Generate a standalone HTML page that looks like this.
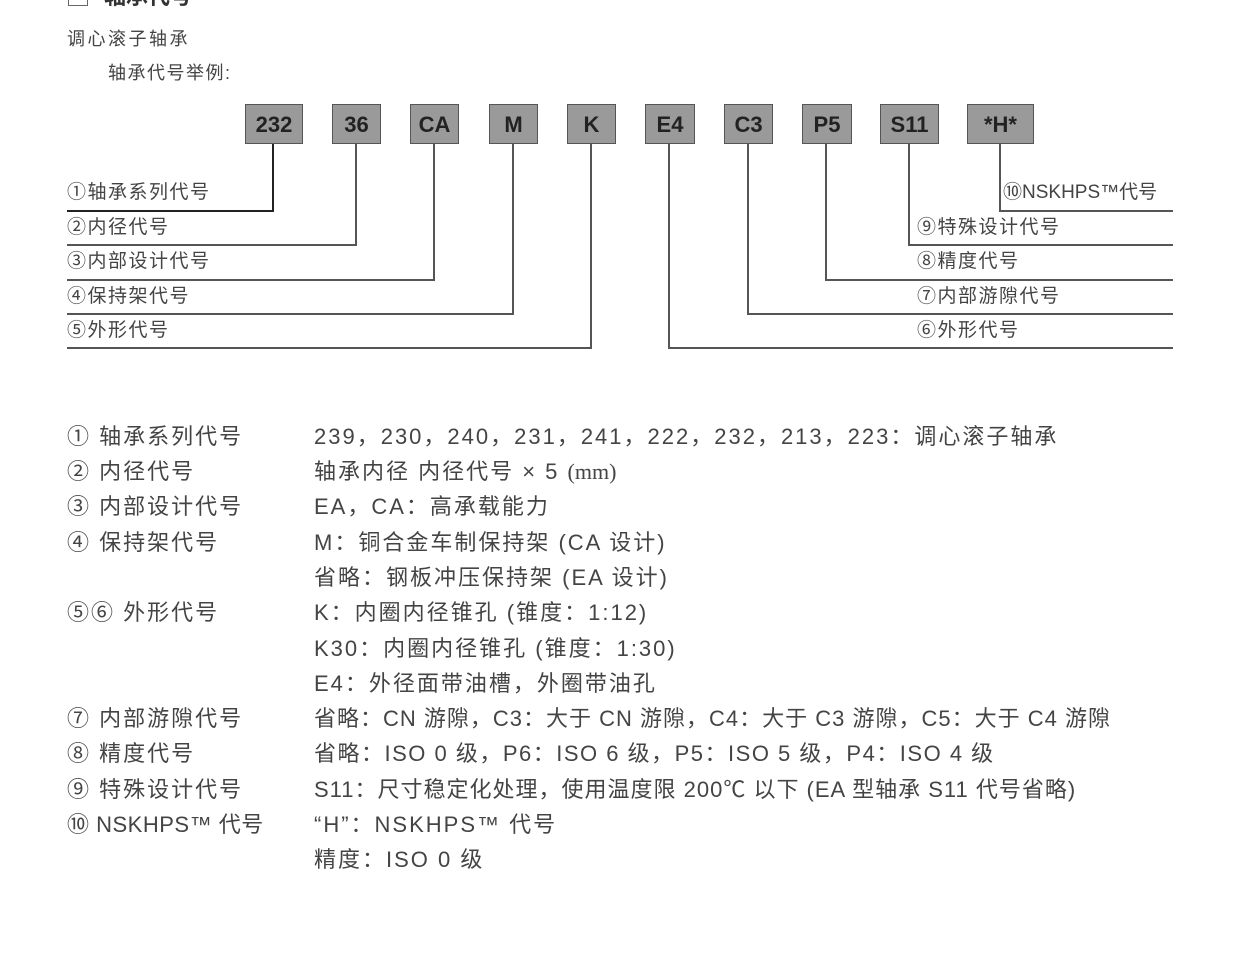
<!DOCTYPE html>
<html><head><meta charset="utf-8"><style>
body{margin:0;width:1240px;height:968px;background:#fff;position:relative;overflow:hidden;font-family:"Liberation Sans","Noto Sans CJK SC",sans-serif;color:#444}
.t{position:absolute;white-space:nowrap;line-height:1}
.box{position:absolute;top:104px;height:40px;background:#9a9a9a;border:1px solid #555;box-sizing:border-box;font-weight:bold;font-size:22px;color:#222;text-align:center;line-height:40px}
.v{position:absolute;width:1.5px;background:#555}
.h{position:absolute;height:1.5px;background:#555}
.lb{font-size:19px;color:#444;letter-spacing:1.5px}
.r{font-size:22px;color:#444;letter-spacing:2px}
</style></head><body>
<div style="position:absolute;left:68px;top:-12px;width:18px;height:16px;border:1.5px solid #666"></div>
<div class="t" style="left:104px;top:-14px;font-size:22px;font-weight:bold;color:#333">轴承代号</div>
<div class="t" style="left:67px;top:30px;font-size:18px;letter-spacing:2.5px">调心滚子轴承</div>
<div class="t" style="left:108px;top:64px;font-size:18px;letter-spacing:1.5px">轴承代号举例:</div>

<div class="box" style="left:245px;width:58px">232</div>
<div class="box" style="left:332px;width:49px">36</div>
<div class="box" style="left:410px;width:49px">CA</div>
<div class="box" style="left:489px;width:49px">M</div>
<div class="box" style="left:567px;width:49px">K</div>
<div class="box" style="left:645px;width:50px">E4</div>
<div class="box" style="left:724px;width:49px">C3</div>
<div class="box" style="left:802px;width:50px">P5</div>
<div class="box" style="left:880px;width:59px">S11</div>
<div class="box" style="left:967px;width:67px">*H*</div>

<div class="v" style="left:272px;top:144px;height:68px;width:2px;background:#222"></div>
<div class="h" style="left:67px;top:210px;width:207px;height:2px;background:#222"></div>
<div class="v" style="left:355px;top:144px;height:102px"></div><div class="h" style="left:67px;top:244px;width:290px"></div>
<div class="v" style="left:433px;top:144px;height:137px"></div><div class="h" style="left:67px;top:279px;width:368px"></div>
<div class="v" style="left:512px;top:144px;height:171px"></div><div class="h" style="left:67px;top:313px;width:447px"></div>
<div class="v" style="left:590px;top:144px;height:205px"></div><div class="h" style="left:67px;top:347px;width:525px"></div>

<div class="v" style="left:999px;top:144px;height:68px"></div><div class="h" style="left:999px;top:210px;width:174px"></div>
<div class="v" style="left:908px;top:144px;height:102px"></div><div class="h" style="left:908px;top:244px;width:265px"></div>
<div class="v" style="left:825px;top:144px;height:137px"></div><div class="h" style="left:825px;top:279px;width:348px"></div>
<div class="v" style="left:747px;top:144px;height:171px"></div><div class="h" style="left:747px;top:313px;width:426px"></div>
<div class="v" style="left:668px;top:144px;height:205px"></div><div class="h" style="left:668px;top:347px;width:505px"></div>

<div class="t lb" style="left:67px;top:183px">①轴承系列代号</div>
<div class="t lb" style="left:67px;top:218px">②内径代号</div>
<div class="t lb" style="left:67px;top:252px">③内部设计代号</div>
<div class="t lb" style="left:67px;top:287px">④保持架代号</div>
<div class="t lb" style="left:67px;top:321px">⑤外形代号</div>
<div class="t lb" style="left:1003px;top:183px;letter-spacing:0">⑩NSKHPS™代号</div>
<div class="t lb" style="left:917px;top:218px">⑨特殊设计代号</div>
<div class="t lb" style="left:917px;top:252px">⑧精度代号</div>
<div class="t lb" style="left:917px;top:287px">⑦内部游隙代号</div>
<div class="t lb" style="left:917px;top:321px">⑥外形代号</div>

<div class="t r" style="left:67px;top:426px">① 轴承系列代号</div>
<div class="t r" style="left:67px;top:461px">② 内径代号</div>
<div class="t r" style="left:67px;top:496px">③ 内部设计代号</div>
<div class="t r" style="left:67px;top:532px">④ 保持架代号</div>
<div class="t r" style="left:67px;top:602px">⑤⑥ 外形代号</div>
<div class="t r" style="left:67px;top:708px">⑦ 内部游隙代号</div>
<div class="t r" style="left:67px;top:743px">⑧ 精度代号</div>
<div class="t r" style="left:67px;top:779px">⑨ 特殊设计代号</div>
<div class="t r" style="left:67px;top:814px;letter-spacing:0.5px">⑩ NSKHPS™ 代号</div>

<div class="t r" style="left:314px;top:426px">239，230，240，231，241，222，232，213，223：调心滚子轴承</div>
<div class="t r" style="left:314px;top:461px">轴承内径 内径代号 × 5 <span style="font-family:'Liberation Serif',serif;letter-spacing:0">(mm)</span></div>
<div class="t r" style="left:314px;top:496px">EA，CA：高承载能力</div>
<div class="t r" style="left:314px;top:532px">M：铜合金车制保持架 (CA 设计)</div>
<div class="t r" style="left:314px;top:567px">省略：钢板冲压保持架 (EA 设计)</div>
<div class="t r" style="left:314px;top:602px">K：内圈内径锥孔 (锥度：1:12)</div>
<div class="t r" style="left:314px;top:638px">K30：内圈内径锥孔 (锥度：1:30)</div>
<div class="t r" style="left:314px;top:673px">E4：外径面带油槽，外圈带油孔</div>
<div class="t r" style="left:314px;top:708px;letter-spacing:1px">省略：CN 游隙，C3：大于 CN 游隙，C4：大于 C3 游隙，C5：大于 C4 游隙</div>
<div class="t r" style="left:314px;top:743px;letter-spacing:1.5px">省略：ISO 0 级，P6：ISO 6 级，P5：ISO 5 级，P4：ISO 4 级</div>
<div class="t r" style="left:314px;top:779px;letter-spacing:1px">S11：尺寸稳定化处理，使用温度限 200℃ 以下 (EA 型轴承 S11 代号省略)</div>
<div class="t r" style="left:314px;top:814px">“H”：NSKHPS™ 代号</div>
<div class="t r" style="left:314px;top:849px">精度：ISO 0 级</div>
</body></html>
